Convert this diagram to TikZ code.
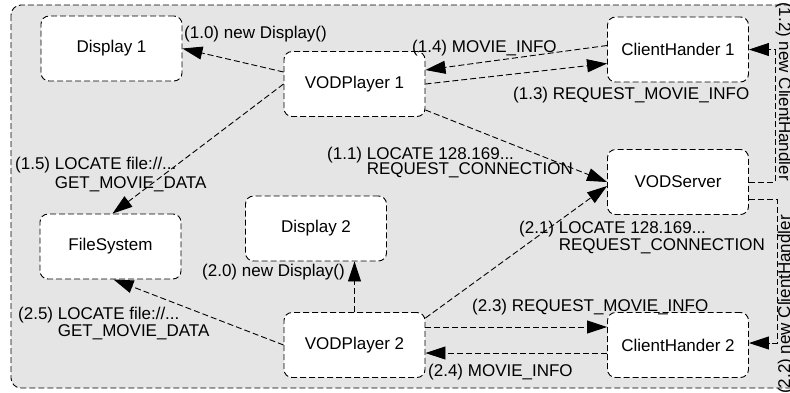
\documentclass[tikz,border=0pt]{standalone}
\usepackage{fontspec}
\setmainfont{Liberation Sans}
\usetikzlibrary{arrows.meta}
\definecolor{bgray}{RGB}{229,229,229}
\tikzset{
  box/.style={draw, fill=white, rounded corners=8pt, minimum width=141pt, minimum height=65pt,
    dash pattern=on 6pt off 3pt, line width=0.9pt, font=\fontsize{17}{20}\selectfont, inner sep=0pt},
  conn/.style={dash pattern=on 6pt off 3pt, line width=0.9pt, -{Triangle[length=20pt,width=13pt]}},
  lbl/.style={anchor=base west, inner sep=0pt, font=\fontsize{17}{20}\selectfont},
  frame/.style={draw, fill=bgray, dash pattern=on 6pt off 3pt, line width=0.9pt, rounded corners=10pt},
}
\begin{document}
\begin{tikzpicture}[x=1pt,y=-1pt]
\useasboundingbox (0,0) rectangle (790,392);
\clip (0,0) rectangle (790,392);
\draw[frame] (11,5) rectangle (830,388);

% boxes
\node[box] (d1)  at (111.5,48.5) {Display 1};
\node[box] (vp1) at (354.5,84)   {VODPlayer 1};
\node[box] (ch1) at (678,49.5)   {ClientHander 1};
\node[box] (vs)  at (678,182)    {VODServer};
\node[box] (fs)  at (110.5,246.5){FileSystem};
\node[box] (d2)  at (316,228.5)  {Display 2};
\node[box] (vp2) at (354.5,345)  {VODPlayer 2};
\node[box] (ch2) at (678,345)    {ClientHander 2};

% connectors
\draw[conn] ([yshift=12pt]vp1.west) -- (d1.east);
\draw[conn] (vp1.west) -- ([xshift=2pt]fs.north);
\draw[conn] ([yshift=4pt]ch1.west) -- ([yshift=14pt]vp1.east);
\draw[conn] (vp1.east) -- ([yshift=-14pt]ch1.west);
\draw[conn] ([yshift=-26pt]vp1.east) -- (vs.west);
\draw[conn] ([yshift=27pt]vp2.east) -- ([yshift=-4pt]vs.west);
\draw[conn] (vp2.north) -- (vp2.north |- d2.south);
\draw[conn] (vp2.west) -- ([xshift=3pt]fs.south);
\draw[conn] ([yshift=18pt]vp2.east) -- ([yshift=18pt]ch2.west);
\draw[conn] ([yshift=-8pt]ch2.west) -- ([yshift=-8pt]vp2.east);
\draw[conn] (vs.east) -- ++(26,0) |- (ch1.east);
\draw[conn] ([yshift=-17pt]vs.east) -- ++(28,0) |- ([yshift=2pt]ch2.east);

% labels
\node[lbl] (l10)  at (184,38)    {(1.0) new Display()};
\node[lbl] (l14)  at (412,52)    {(1.4) MOVIE\_INFO};
\node[lbl] (l13)  at (513,99)    {(1.3) REQUEST\_MOVIE\_INFO};
\node[lbl] (l11a) at (327,159.5) {(1.1) LOCATE 128.169...};
\node[lbl] (l11b) at (327,174)   {\hphantom{(1.1) }REQUEST\_CONNECTION};
\node[lbl] (l15a) at (15,169)    {(1.5) LOCATE file://...};
\node[lbl] (l15b) at (15,188)    {\hphantom{(1.5) }GET\_MOVIE\_DATA};
\node[lbl] (l21a) at (519,233)   {(2.1) LOCATE 128.169...};
\node[lbl] (l21b) at (519,250)   {\hphantom{(2.1) }REQUEST\_CONNECTION};
\node[lbl] (l20)  at (202,276)   {(2.0) new Display()};
\node[lbl] (l25a) at (18,319)    {(2.5) LOCATE file://...};
\node[lbl] (l25b) at (18,336)    {\hphantom{(2.5) }GET\_MOVIE\_DATA};
\node[lbl] (l23)  at (472,311)   {(2.3) REQUEST\_MOVIE\_INFO};
\node[lbl] (l24)  at (428,376)   {(2.4) MOVIE\_INFO};
\node[lbl, rotate=-90] (l12) at (779,2)   {(1.2) new ClientHandler};
\node[lbl, rotate=90]  (l22) at (790,394) {(2.2) new ClientHandler};
\end{tikzpicture}
\end{document}
